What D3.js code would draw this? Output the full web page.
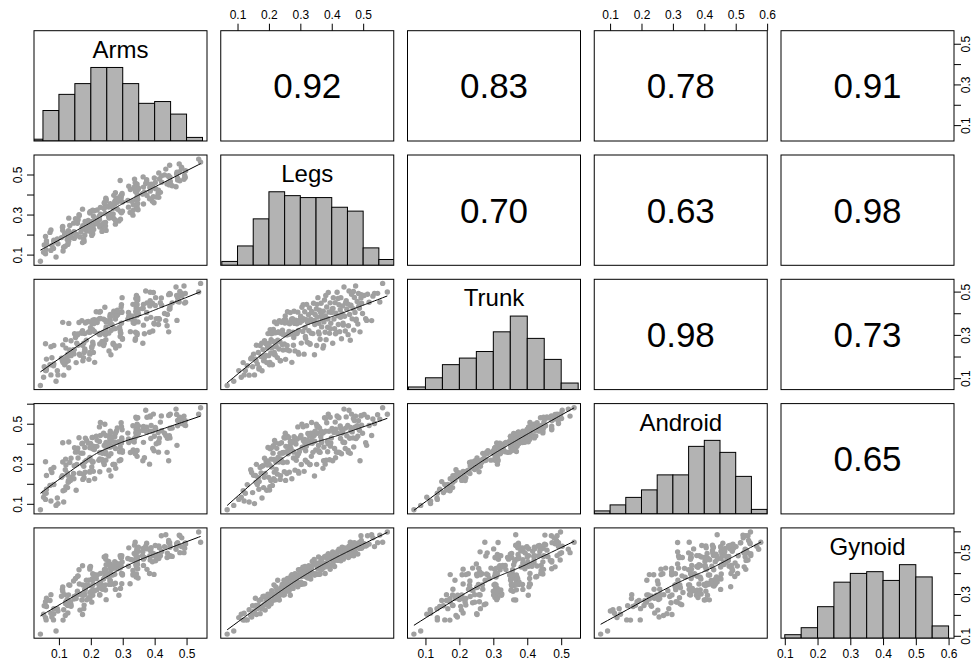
<!DOCTYPE html>
<html>
<head>
<meta charset="utf-8">
<script src="https://cdn.jsdelivr.net/npm/d3@7"></script>
<style>
  body { margin: 0; background: #fff; }
  svg { display: block; font-family: "Liberation Sans", Arial, Helvetica, sans-serif; }
</style>
</head>
<body>
<div id="chart"></div>
<script>
// variable names, in panel order
const varNames = ["Arms", "Legs", "Trunk", "Android", "Gynoid"];

// one value per subject, same subject order in every array
const arms = [
  0.042, 0.091, 0.058, 0.052, 0.113, 0.060, 0.083, 0.115, 0.120, 0.054,
  0.128, 0.097, 0.061, 0.174, 0.084, 0.179, 0.131, 0.084, 0.126, 0.095,
  0.148, 0.127, 0.138, 0.166, 0.058, 0.154, 0.122, 0.181, 0.138, 0.156,
  0.122, 0.206, 0.136, 0.149, 0.203, 0.072, 0.169, 0.147, 0.235, 0.187,
  0.130, 0.248, 0.075, 0.209, 0.177, 0.186, 0.193, 0.181, 0.172, 0.236,
  0.111, 0.228, 0.112, 0.207, 0.246, 0.134, 0.228, 0.206, 0.228, 0.183,
  0.194, 0.219, 0.158, 0.240, 0.217, 0.246, 0.204, 0.182, 0.204, 0.288,
  0.159, 0.192, 0.212, 0.227, 0.293, 0.160, 0.272, 0.131, 0.257, 0.260,
  0.225, 0.261, 0.256, 0.227, 0.263, 0.164, 0.332, 0.163, 0.260, 0.270,
  0.244, 0.260, 0.197, 0.323, 0.197, 0.297, 0.199, 0.299, 0.211, 0.332,
  0.206, 0.348, 0.284, 0.174, 0.342, 0.270, 0.240, 0.345, 0.230, 0.256,
  0.247, 0.343, 0.247, 0.263, 0.261, 0.333, 0.345, 0.275, 0.261, 0.347,
  0.242, 0.398, 0.283, 0.299, 0.275, 0.393, 0.248, 0.316, 0.278, 0.341,
  0.248, 0.347, 0.384, 0.280, 0.247, 0.295, 0.413, 0.290, 0.396, 0.346,
  0.294, 0.376, 0.296, 0.297, 0.346, 0.363, 0.298, 0.411, 0.277, 0.418,
  0.342, 0.340, 0.386, 0.344, 0.412, 0.345, 0.324, 0.349, 0.403, 0.340,
  0.349, 0.385, 0.365, 0.467, 0.319, 0.394, 0.386, 0.446, 0.389, 0.439,
  0.372, 0.440, 0.339, 0.422, 0.449, 0.375, 0.448, 0.292, 0.472, 0.375,
  0.492, 0.415, 0.472, 0.399, 0.496, 0.364, 0.444, 0.421, 0.494, 0.431,
  0.469, 0.413, 0.479, 0.497, 0.435, 0.484, 0.447, 0.477, 0.544, 0.538,
  0.075, 0.078, 0.129, 0.061, 0.178, 0.108, 0.203, 0.118, 0.121, 0.202,
  0.197, 0.112, 0.197, 0.175, 0.175, 0.277, 0.146, 0.211, 0.277, 0.152,
  0.260, 0.208, 0.230, 0.296, 0.292, 0.220, 0.242, 0.318, 0.266, 0.365,
  0.243, 0.328, 0.289, 0.343, 0.405, 0.272, 0.362, 0.368, 0.341, 0.388,
  0.336, 0.455, 0.345, 0.402, 0.479, 0.337, 0.448, 0.444, 0.470, 0.485
];
const legs = [
  0.067, 0.088, 0.104, 0.112, 0.118, 0.125, 0.131, 0.137, 0.142, 0.148,
  0.151, 0.154, 0.157, 0.160, 0.163, 0.166, 0.169, 0.172, 0.175, 0.178,
  0.181, 0.183, 0.186, 0.188, 0.191, 0.193, 0.195, 0.197, 0.199, 0.201,
  0.203, 0.204, 0.206, 0.208, 0.209, 0.211, 0.213, 0.215, 0.216, 0.218,
  0.220, 0.221, 0.223, 0.225, 0.227, 0.228, 0.230, 0.232, 0.233, 0.235,
  0.237, 0.238, 0.240, 0.242, 0.243, 0.245, 0.246, 0.248, 0.249, 0.251,
  0.253, 0.254, 0.256, 0.258, 0.259, 0.261, 0.263, 0.265, 0.266, 0.268,
  0.270, 0.271, 0.273, 0.275, 0.277, 0.278, 0.280, 0.282, 0.283, 0.285,
  0.287, 0.289, 0.290, 0.292, 0.294, 0.295, 0.297, 0.299, 0.301, 0.303,
  0.305, 0.306, 0.308, 0.310, 0.312, 0.314, 0.315, 0.317, 0.319, 0.320,
  0.322, 0.324, 0.326, 0.327, 0.329, 0.331, 0.333, 0.335, 0.336, 0.338,
  0.340, 0.342, 0.344, 0.345, 0.347, 0.349, 0.351, 0.352, 0.354, 0.356,
  0.358, 0.359, 0.361, 0.363, 0.365, 0.366, 0.368, 0.370, 0.372, 0.373,
  0.375, 0.377, 0.379, 0.380, 0.382, 0.384, 0.386, 0.387, 0.389, 0.391,
  0.393, 0.395, 0.397, 0.399, 0.401, 0.403, 0.405, 0.407, 0.409, 0.411,
  0.413, 0.415, 0.417, 0.419, 0.421, 0.423, 0.425, 0.427, 0.429, 0.431,
  0.433, 0.435, 0.437, 0.439, 0.441, 0.443, 0.446, 0.448, 0.451, 0.453,
  0.455, 0.457, 0.459, 0.461, 0.463, 0.465, 0.468, 0.470, 0.472, 0.474,
  0.476, 0.478, 0.481, 0.483, 0.485, 0.488, 0.490, 0.493, 0.495, 0.498,
  0.503, 0.508, 0.514, 0.519, 0.527, 0.536, 0.546, 0.553, 0.562, 0.577,
  0.121, 0.145, 0.159, 0.168, 0.177, 0.185, 0.196, 0.202, 0.207, 0.214,
  0.217, 0.222, 0.229, 0.236, 0.244, 0.252, 0.257, 0.264, 0.272, 0.279,
  0.286, 0.293, 0.302, 0.309, 0.316, 0.323, 0.330, 0.337, 0.346, 0.353,
  0.360, 0.367, 0.374, 0.381, 0.388, 0.396, 0.404, 0.412, 0.420, 0.428,
  0.436, 0.444, 0.452, 0.460, 0.469, 0.477, 0.486, 0.494, 0.511, 0.531
];
const trunk = [
  0.066, 0.086, 0.135, 0.104, 0.172, 0.135, 0.157, 0.114, 0.190, 0.153,
  0.211, 0.115, 0.188, 0.252, 0.166, 0.219, 0.148, 0.251, 0.200, 0.134,
  0.232, 0.180, 0.273, 0.206, 0.259, 0.172, 0.239, 0.306, 0.204, 0.261,
  0.173, 0.324, 0.217, 0.305, 0.240, 0.162, 0.309, 0.212, 0.268, 0.360,
  0.207, 0.310, 0.245, 0.352, 0.195, 0.276, 0.313, 0.235, 0.366, 0.269,
  0.181, 0.307, 0.358, 0.256, 0.322, 0.230, 0.301, 0.368, 0.258, 0.355,
  0.187, 0.368, 0.300, 0.251, 0.407, 0.302, 0.355, 0.227, 0.351, 0.403,
  0.304, 0.362, 0.173, 0.375, 0.312, 0.252, 0.409, 0.353, 0.226, 0.368,
  0.305, 0.351, 0.308, 0.405, 0.320, 0.211, 0.368, 0.357, 0.386, 0.262,
  0.428, 0.365, 0.316, 0.375, 0.211, 0.407, 0.333, 0.284, 0.370, 0.441,
  0.266, 0.360, 0.393, 0.319, 0.425, 0.257, 0.372, 0.308, 0.408, 0.363,
  0.306, 0.446, 0.367, 0.208, 0.394, 0.356, 0.420, 0.251, 0.382, 0.472,
  0.313, 0.354, 0.414, 0.280, 0.402, 0.446, 0.337, 0.373, 0.239, 0.409,
  0.360, 0.461, 0.312, 0.387, 0.278, 0.429, 0.374, 0.335, 0.496, 0.406,
  0.307, 0.448, 0.354, 0.404, 0.420, 0.261, 0.472, 0.373, 0.329, 0.449,
  0.400, 0.312, 0.497, 0.388, 0.348, 0.439, 0.315, 0.416, 0.472, 0.282,
  0.398, 0.434, 0.345, 0.521, 0.386, 0.318, 0.458, 0.419, 0.443, 0.342,
  0.503, 0.394, 0.275, 0.437, 0.488, 0.374, 0.421, 0.322, 0.473, 0.404,
  0.526, 0.372, 0.454, 0.350, 0.491, 0.423, 0.314, 0.471, 0.447, 0.399,
  0.482, 0.375, 0.488, 0.451, 0.366, 0.492, 0.492, 0.452, 0.538, 0.498,
  0.115, 0.194, 0.181, 0.142, 0.262, 0.192, 0.245, 0.162, 0.278, 0.325,
  0.219, 0.254, 0.312, 0.180, 0.308, 0.387, 0.231, 0.316, 0.373, 0.288,
  0.354, 0.219, 0.376, 0.440, 0.293, 0.357, 0.260, 0.404, 0.348, 0.441,
  0.304, 0.387, 0.250, 0.482, 0.375, 0.328, 0.422, 0.305, 0.468, 0.381,
  0.354, 0.448, 0.301, 0.436, 0.501, 0.366, 0.432, 0.486, 0.367, 0.479
];
const android = [
  0.070, 0.092, 0.122, 0.133, 0.165, 0.153, 0.196, 0.109, 0.270, 0.156,
  0.242, 0.101, 0.241, 0.297, 0.197, 0.230, 0.211, 0.281, 0.254, 0.129,
  0.290, 0.181, 0.328, 0.252, 0.310, 0.168, 0.294, 0.381, 0.232, 0.297,
  0.186, 0.375, 0.216, 0.380, 0.284, 0.192, 0.353, 0.225, 0.322, 0.416,
  0.217, 0.404, 0.271, 0.377, 0.248, 0.316, 0.321, 0.309, 0.400, 0.352,
  0.240, 0.324, 0.405, 0.310, 0.355, 0.306, 0.356, 0.431, 0.260, 0.428,
  0.217, 0.387, 0.360, 0.308, 0.437, 0.350, 0.431, 0.258, 0.389, 0.410,
  0.378, 0.403, 0.225, 0.411, 0.362, 0.329, 0.435, 0.409, 0.268, 0.426,
  0.317, 0.422, 0.339, 0.484, 0.350, 0.253, 0.361, 0.430, 0.432, 0.296,
  0.497, 0.383, 0.380, 0.415, 0.262, 0.421, 0.402, 0.365, 0.387, 0.490,
  0.308, 0.451, 0.407, 0.403, 0.439, 0.296, 0.453, 0.337, 0.506, 0.402,
  0.357, 0.454, 0.441, 0.239, 0.462, 0.369, 0.498, 0.297, 0.452, 0.488,
  0.391, 0.365, 0.479, 0.357, 0.435, 0.463, 0.406, 0.453, 0.277, 0.455,
  0.383, 0.530, 0.298, 0.462, 0.318, 0.505, 0.412, 0.360, 0.548, 0.462,
  0.320, 0.532, 0.404, 0.429, 0.476, 0.315, 0.470, 0.456, 0.376, 0.508,
  0.472, 0.358, 0.539, 0.453, 0.358, 0.530, 0.356, 0.489, 0.476, 0.350,
  0.453, 0.463, 0.407, 0.573, 0.406, 0.376, 0.534, 0.440, 0.491, 0.357,
  0.567, 0.427, 0.352, 0.465, 0.548, 0.459, 0.429, 0.384, 0.516, 0.482,
  0.538, 0.428, 0.490, 0.437, 0.515, 0.467, 0.315, 0.539, 0.493, 0.452,
  0.546, 0.405, 0.532, 0.491, 0.441, 0.501, 0.545, 0.523, 0.580, 0.547,
  0.114, 0.256, 0.208, 0.173, 0.287, 0.232, 0.314, 0.169, 0.323, 0.390,
  0.258, 0.309, 0.332, 0.222, 0.353, 0.452, 0.251, 0.371, 0.408, 0.358,
  0.399, 0.262, 0.441, 0.485, 0.318, 0.417, 0.296, 0.424, 0.413, 0.486,
  0.359, 0.417, 0.315, 0.527, 0.400, 0.388, 0.467, 0.330, 0.533, 0.426,
  0.409, 0.478, 0.366, 0.481, 0.526, 0.426, 0.477, 0.541, 0.392, 0.524
];
const gynoid = [
  0.108, 0.123, 0.187, 0.203, 0.175, 0.176, 0.176, 0.225, 0.197, 0.244,
  0.209, 0.219, 0.280, 0.202, 0.230, 0.247, 0.269, 0.206, 0.274, 0.230,
  0.288, 0.246, 0.249, 0.223, 0.263, 0.278, 0.258, 0.299, 0.241, 0.295,
  0.263, 0.294, 0.261, 0.283, 0.316, 0.269, 0.298, 0.276, 0.344, 0.272,
  0.296, 0.273, 0.297, 0.318, 0.294, 0.366, 0.282, 0.321, 0.271, 0.323,
  0.323, 0.330, 0.313, 0.346, 0.319, 0.342, 0.295, 0.366, 0.297, 0.341,
  0.366, 0.320, 0.313, 0.331, 0.374, 0.344, 0.338, 0.323, 0.372, 0.294,
  0.385, 0.341, 0.393, 0.346, 0.327, 0.387, 0.347, 0.344, 0.397, 0.364,
  0.347, 0.365, 0.381, 0.335, 0.416, 0.348, 0.391, 0.416, 0.346, 0.392,
  0.384, 0.348, 0.428, 0.349, 0.419, 0.349, 0.432, 0.391, 0.381, 0.413,
  0.397, 0.377, 0.421, 0.435, 0.382, 0.423, 0.372, 0.423, 0.398, 0.456,
  0.399, 0.396, 0.466, 0.392, 0.443, 0.397, 0.449, 0.395, 0.429, 0.421,
  0.477, 0.394, 0.433, 0.396, 0.455, 0.454, 0.417, 0.470, 0.424, 0.440,
  0.440, 0.479, 0.398, 0.448, 0.482, 0.434, 0.470, 0.437, 0.493, 0.441,
  0.474, 0.418, 0.475, 0.484, 0.463, 0.502, 0.453, 0.489, 0.432, 0.483,
  0.477, 0.490, 0.463, 0.505, 0.475, 0.515, 0.466, 0.505, 0.459, 0.497,
  0.524, 0.483, 0.467, 0.514, 0.521, 0.484, 0.510, 0.481, 0.522, 0.475,
  0.529, 0.496, 0.548, 0.504, 0.484, 0.543, 0.524, 0.483, 0.546, 0.517,
  0.498, 0.521, 0.536, 0.491, 0.545, 0.518, 0.547, 0.579, 0.519, 0.526,
  0.541, 0.530, 0.579, 0.539, 0.584, 0.527, 0.546, 0.582, 0.548, 0.597,
  0.208, 0.190, 0.245, 0.240, 0.230, 0.289, 0.261, 0.297, 0.253, 0.300,
  0.279, 0.334, 0.307, 0.295, 0.343, 0.322, 0.362, 0.314, 0.352, 0.374,
  0.346, 0.393, 0.357, 0.398, 0.424, 0.391, 0.407, 0.433, 0.391, 0.437,
  0.418, 0.464, 0.444, 0.430, 0.475, 0.437, 0.483, 0.475, 0.461, 0.507,
  0.494, 0.480, 0.516, 0.532, 0.498, 0.534, 0.530, 0.556, 0.532, 0.569
];

// printed correlations, upper triangle read row by row
const correlations = [0.92, 0.83, 0.78, 0.91, 0.70, 0.63, 0.98, 0.98, 0.73, 0.65];

// axis ticks and histogram breaks
const ticksTo05 = [0.1, 0.2, 0.3, 0.4, 0.5];
const ticksTo06 = [0.1, 0.2, 0.3, 0.4, 0.5, 0.6];
const verticalLabels = [0.1, 0.3, 0.5];
const histBreaks = [0, 0.05, 0.1, 0.15, 0.2, 0.25, 0.3, 0.35, 0.4, 0.45, 0.5, 0.55, 0.6, 0.65];

const columns = [arms, legs, trunk, android, gynoid];
const tickSets = [ticksTo05, ticksTo05, ticksTo05, ticksTo06, ticksTo06];

const width = 972, height = 664;
const left0 = 34, top0 = 30.7;
const panelW = 173, panelH = 110.3;
const stepX = 186.75, stepY = 124.3;
const nVar = varNames.length;

// R-style lowess (span 2/3, 3 robustness iterations)
function lowess(xs, ys, f = 2 / 3, iter = 3) {
  const order = d3.range(xs.length).sort((a, b) => xs[a] - xs[b]);
  const x = order.map(i => xs[i]), y = order.map(i => ys[i]);
  const n = x.length;
  const ns = Math.max(2, Math.min(n, Math.round(f * n)));
  let rw = new Array(n).fill(1);
  const fit = new Array(n).fill(0);
  for (let it = 0; it <= iter; it++) {
    let nleft = 0, nright = ns - 1;
    for (let i = 0; i < n; i++) {
      while (nright < n - 1 && x[i] - x[nleft] > x[nright + 1] - x[i]) { nleft++; nright++; }
      const h = Math.max(x[i] - x[nleft], x[nright] - x[i]);
      let sw = 0, sx = 0, sy = 0, sxx = 0, sxy = 0;
      for (let j = 0; j < n; j++) {
        const d = Math.abs(x[j] - x[i]);
        if (d > 0.999 * h) continue;
        let w = d <= 0.001 * h ? 1 : Math.pow(1 - Math.pow(d / h, 3), 3);
        w *= rw[j];
        sw += w; sx += w * x[j]; sy += w * y[j]; sxx += w * x[j] * x[j]; sxy += w * x[j] * y[j];
      }
      if (sw <= 0) { fit[i] = y[i]; continue; }
      const mx = sx / sw, my = sy / sw;
      const vx = sxx / sw - mx * mx;
      const b = vx > 1e-10 ? (sxy / sw - mx * my) / vx : 0;
      fit[i] = my + b * (x[i] - mx);
    }
    if (it === iter) break;
    const res = y.map((v, i) => v - fit[i]);
    const cmad = 6 * d3.median(res.map(Math.abs));
    if (!(cmad > 1e-10)) break;
    rw = res.map(r => { const u = Math.abs(r) / cmad; return u < 1 ? (1 - u * u) * (1 - u * u) : 0; });
  }
  return x.map((v, i) => [v, fit[i]]);
}

// each variable's range padded by 4%, as pairs() does
const xScales = columns.map(v => {
  const [lo, hi] = d3.extent(v);
  const pad = (hi - lo) * 0.04;
  return d3.scaleLinear().domain([lo - pad, hi + pad]).range([0, panelW]);
});
const yScales = columns.map(v => {
  const [lo, hi] = d3.extent(v);
  const pad = (hi - lo) * 0.04;
  return d3.scaleLinear().domain([lo - pad, hi + pad]).range([panelH, 0]);
});

const svg = d3.select("#chart").append("svg")
  .attr("width", width)
  .attr("height", height);

svg.append("rect").attr("width", width).attr("height", height).attr("fill", "#fff");

svg.append("defs").append("clipPath")
  .attr("id", "panel-clip")
  .append("rect")
  .attr("width", panelW)
  .attr("height", panelH);

const fmt = d3.format(".1f");
let corrIndex = 0;

for (let i = 0; i < nVar; i++) {
  for (let j = 0; j < nVar; j++) {
    const g = svg.append("g")
      .attr("transform", `translate(${left0 + j * stepX},${top0 + i * stepY})`);
    const inner = g.append("g").attr("clip-path", "url(#panel-clip)");
    const sx = xScales[j];

    if (i === j) {
      // histogram on the diagonal, tallest bar at 1/1.5 of the panel
      const bins = d3.bin().domain([0, 0.65]).thresholds(histBreaks)(columns[i])
        .filter(b => b.length > 0);
      const maxCount = d3.max(bins, b => b.length);
      const hy = d3.scaleLinear().domain([0, 1.5]).range([panelH, 0]);
      inner.selectAll("rect.bar")
        .data(bins)
        .enter()
        .append("rect")
        .attr("class", "bar")
        .attr("x", b => sx(b.x0))
        .attr("y", b => hy(b.length / maxCount))
        .attr("width", b => sx(b.x1) - sx(b.x0))
        .attr("height", b => panelH - hy(b.length / maxCount))
        .attr("fill", "#b3b3b3")
        .attr("stroke", "#000")
        .attr("stroke-width", 1);
      g.append("text")
        .attr("x", panelW / 2)
        .attr("y", panelH * (1 - 0.8333) + 0.358 * 24)
        .attr("text-anchor", "middle")
        .style("font-size", "24px")
        .text(varNames[i]);
    } else if (i > j) {
      // scatter with lowess smooth below the diagonal
      const sy = yScales[i];
      const xs = columns[j], ys = columns[i];
      inner.selectAll("circle")
        .data(d3.range(xs.length))
        .enter()
        .append("circle")
        .attr("cx", k => sx(xs[k]))
        .attr("cy", k => sy(ys[k]))
        .attr("r", 2.7)
        .attr("fill", "#a0a0a0");
      inner.append("path")
        .datum(lowess(xs, ys))
        .attr("fill", "none")
        .attr("stroke", "#000")
        .attr("stroke-width", 1)
        .attr("d", d3.line().x(d => sx(d[0])).y(d => sy(d[1])));
    } else {
      // correlation above the diagonal
      g.append("text")
        .attr("x", panelW / 2)
        .attr("y", panelH / 2 + 0.358 * 35)
        .attr("text-anchor", "middle")
        .style("font-size", "35px")
        .text(correlations[corrIndex++].toFixed(2));
    }

    g.append("rect")
      .attr("width", panelW)
      .attr("height", panelH)
      .attr("fill", "none")
      .attr("stroke", "#000")
      .attr("stroke-width", 1);

    // alternating axes like pairs()
    if (i === 0 && j % 2 === 1) {
      const ax = g.append("g")
        .call(d3.axisTop(sx).tickValues(tickSets[j]).tickSize(7).tickPadding(4.5).tickFormat(fmt));
      styleAxis(ax);
    }
    if (i === nVar - 1 && j % 2 === 0) {
      const ax = g.append("g")
        .attr("transform", `translate(0,${panelH})`)
        .call(d3.axisBottom(sx).tickValues(tickSets[j]).tickSize(7).tickPadding(4.5).tickFormat(fmt));
      styleAxis(ax);
    }
    if (j === 0 && i % 2 === 1) {
      const ax = g.append("g")
        .call(d3.axisLeft(yScales[i]).tickValues(tickSets[i]).tickSize(7)
          .tickFormat(d => verticalLabels.includes(d) ? fmt(d) : ""));
      styleAxis(ax);
      ax.selectAll(".tick text")
        .attr("x", null).attr("dy", null)
        .attr("text-anchor", "middle")
        .attr("dominant-baseline", "central")
        .attr("transform", "translate(-16,0) rotate(-90)");
    }
    if (j === nVar - 1 && i % 2 === 0) {
      const ax = g.append("g")
        .attr("transform", `translate(${panelW},0)`)
        .call(d3.axisRight(yScales[i]).tickValues(tickSets[i]).tickSize(7)
          .tickFormat(d => verticalLabels.includes(d) ? fmt(d) : ""));
      styleAxis(ax);
      ax.selectAll(".tick text")
        .attr("x", null).attr("dy", null)
        .attr("text-anchor", "middle")
        .attr("dominant-baseline", "central")
        .attr("transform", "translate(12,0) rotate(-90)");
    }
  }
}

function styleAxis(ax) {
  ax.select(".domain").remove();
  ax.selectAll(".tick line").attr("stroke", "#000");
  ax.selectAll(".tick text")
    .attr("fill", "#000")
    .style("font-size", "12px")
    .style("font-family", "\"Liberation Sans\", Arial, Helvetica, sans-serif");
}
</script>
</body>
</html>
